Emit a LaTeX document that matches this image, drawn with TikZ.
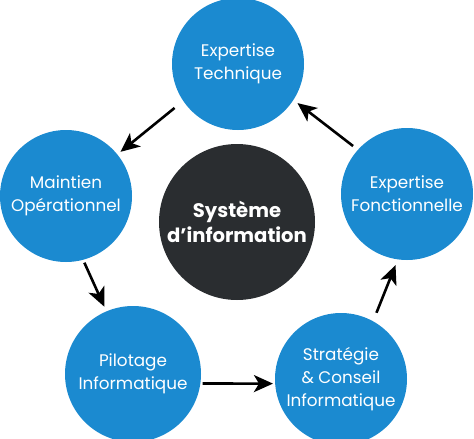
\documentclass[tikz,border=0pt]{standalone}
\usepackage{fontspec}
\setmainfont{Poppins}
\usetikzlibrary{arrows.meta}
\definecolor{cblue}{RGB}{27,138,208}
\definecolor{cdark}{RGB}{42,45,48}
\begin{document}
\begin{tikzpicture}[x=1pt,y=-1pt,
  bubble/.style={circle, fill=cblue, minimum size=132pt, inner sep=0pt, text=white, align=center, font=\fontsize{16.8}{23}\selectfont},
  core/.style={circle, fill=cdark, minimum size=156pt, inner sep=0pt, text=white, align=center, font=\fontsize{19.6}{25}\selectfont\bfseries},
  arr/.style={line width=2.6pt, -{Stealth[length=19pt,width=17pt,inset=5pt]}}]
\useasboundingbox (0,0) rectangle (474,439);
\node[core] (sys) at (237,222) {Système\\d’information};
\node[bubble] (tech) at (238,64) {Expertise\\Technique};
\node[bubble] (maint) at (66,196) {Maintien\\Opérationnel};
\node[bubble] (fonct) at (407,194) {Expertise\\Fonctionnelle};
\node[bubble, minimum size=136pt] (pilot) at (133,374) {Pilotage\\Informatique};
\node[bubble] (strat) at (341,379) {Stratégie\\\& Conseil\\Informatique};
\draw[arr, shorten <=11pt, shorten >=4pt] (tech.214) -- (maint.39);
\draw[arr, shorten <=6pt, shorten >=5pt] (fonct.138) -- (tech.-33);
\draw[arr, shorten <=3pt, shorten >=5pt] (maint.-75) -- (pilot.113);
\draw[arr, shorten <=2pt, shorten >=2pt] (pilot.-8) -- (strat.184);
\draw[arr, shorten <=9pt, shorten >=6pt] (strat.61) -- (fonct.-98);
\end{tikzpicture}
\end{document}
